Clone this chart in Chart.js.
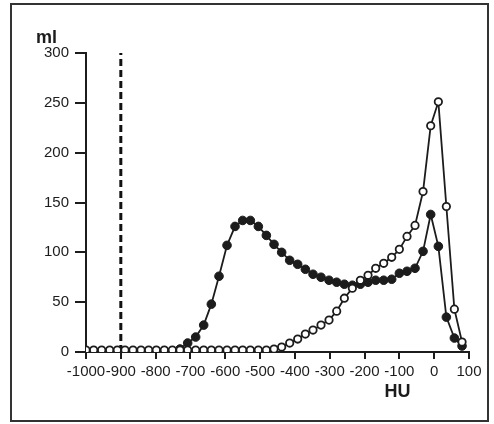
<!DOCTYPE html>
<html>
<head>
<meta charset="utf-8">
<script src="https://cdn.jsdelivr.net/npm/chart.js@4.4.1/dist/chart.umd.min.js"></script>
<style>
  body { margin: 0; background: #fff; }
  #wrap { width: 494px; height: 424px; }
</style>
</head>
<body>
<div id="wrap"><canvas id="hu-chart" width="494" height="424"></canvas></div>
<script>
// HU bins (x positions of the points)
var huBins = [-1000, -978, -955, -932, -910, -888, -865, -842, -820, -798,
              -775, -752, -730, -708, -685, -662, -640, -618, -595, -572,
              -550, -528, -505, -482, -460, -438, -415, -392, -370, -348,
              -325, -302, -280, -258, -235, -212, -190, -168, -145, -122,
              -100, -78, -55, -32, -10, 12, 35, 58, 80];

// open circles
var openSeries = [2, 2, 2, 2, 2, 2, 2, 2, 2, 2,
                  2, 2, 2, 2, 2, 2, 2, 2, 2, 2,
                  2, 2, 2, 2, 3, 5, 9, 13, 18, 22,
                  27, 32, 41, 54, 64, 72, 77, 84, 89, 95,
                  103, 116, 127, 161, 227, 251, 146, 43, 10];

// filled circles
var filledSeries = [null, null, null, null, null, null, null, null, null, null,
                    null, null, 3, 9, 15, 27, 48, 76, 107, 126,
                    132, 132, 126, 117, 108, 100, 92, 88, 83, 78,
                    75, 72, 70, 68, 67, 68, 70, 72, 72, 73,
                    79, 81, 84, 101, 138, 106, 35, 14, 6];

// dashed marker line
var cutoffHU = -900;
var cutoffRange = [0, 300];

var xTicks = [-1000, -900, -800, -700, -600, -500, -400, -300, -200, -100, 0, 100];
var yTicks = [0, 50, 100, 150, 200, 250, 300];

var ink = '#1c1c1c';
var font = "'Liberation Sans', Arial, sans-serif";

function toPoints(values) {
    return huBins.map(function(h, i) { return {x: h, y: values[i]}; });
}

var decor = {
    id: 'decor',
    beforeDraw: function(chart) {
        var ctx = chart.ctx;
        ctx.save();
        ctx.fillStyle = '#fff';
        ctx.fillRect(0, 0, chart.width, chart.height);
        ctx.strokeStyle = '#333';
        ctx.lineWidth = 2;
        ctx.strokeRect(11, 4, 477, 417);
        ctx.restore();
    },
    afterDraw: function(chart) {
        var ctx = chart.ctx;
        var area = chart.chartArea;
        ctx.save();
        ctx.fillStyle = ink;
        ctx.font = "bold 18px " + font;
        ctx.textAlign = 'left';
        ctx.textBaseline = 'alphabetic';
        ctx.fillText('ml', 36, area.top - 10);
        ctx.textAlign = 'center';
        ctx.textBaseline = 'middle';
        ctx.fillText('HU', chart.scales.x.getPixelForValue(-105), area.bottom + 40);
        ctx.restore();
    }
};

var huChart = new Chart(document.getElementById('hu-chart'), {
    type: 'line',
    data: {
        datasets: [
            {
                label: 'open',
                data: toPoints(openSeries),
                order: 0,
                borderColor: ink,
                borderWidth: 1.8,
                pointRadius: 3.7,
                pointBorderWidth: 1.8,
                pointBackgroundColor: '#fff',
                pointBorderColor: ink,
                tension: 0,
                fill: false
            },
            {
                label: 'filled',
                data: toPoints(filledSeries),
                order: 1,
                borderColor: ink,
                borderWidth: 1.8,
                pointRadius: 4.3,
                pointBorderWidth: 1,
                pointBackgroundColor: ink,
                pointBorderColor: ink,
                tension: 0,
                spanGaps: false,
                fill: false
            },
            {
                label: 'cutoff',
                data: cutoffRange.map(function(v) { return {x: cutoffHU, y: v}; }),
                order: 2,
                borderColor: '#111',
                borderWidth: 3,
                borderDash: [7, 4],
                pointRadius: 0,
                fill: false
            }
        ]
    },
    options: {
        responsive: false,
        animation: false,
        events: [],
        layout: { padding: { top: 53, right: 25, bottom: 0, left: 0 } },
        plugins: {
            legend: { display: false },
            tooltip: { enabled: false }
        },
        scales: {
            x: {
                type: 'linear',
                min: -1000,
                max: 100,
                afterFit: function(scale) { scale.height = 72; },
                afterBuildTicks: function(scale) {
                    scale.ticks = xTicks.map(function(v) { return {value: v}; });
                },
                border: { display: true, color: ink, width: 2 },
                grid: { drawOnChartArea: false, drawTicks: true, tickLength: 7, color: ink, lineWidth: 2 },
                ticks: {
                    autoSkip: false,
                    maxRotation: 0,
                    padding: 4,
                    color: ink,
                    font: { family: font, size: 15 },
                    callback: function(v) { return String(v); }
                }
            },
            y: {
                type: 'linear',
                min: 0,
                max: 300,
                afterFit: function(scale) { scale.width = 86; },
                afterBuildTicks: function(scale) {
                    scale.ticks = yTicks.map(function(v) { return {value: v}; });
                },
                border: { display: true, color: ink, width: 2 },
                grid: { drawOnChartArea: false, drawTicks: true, tickLength: 11, color: ink, lineWidth: 2 },
                ticks: {
                    padding: 6,
                    color: ink,
                    font: { family: font, size: 15 },
                    callback: function(v) { return String(v); }
                }
            }
        }
    },
    plugins: [decor]
});
</script>
</body>
</html>
